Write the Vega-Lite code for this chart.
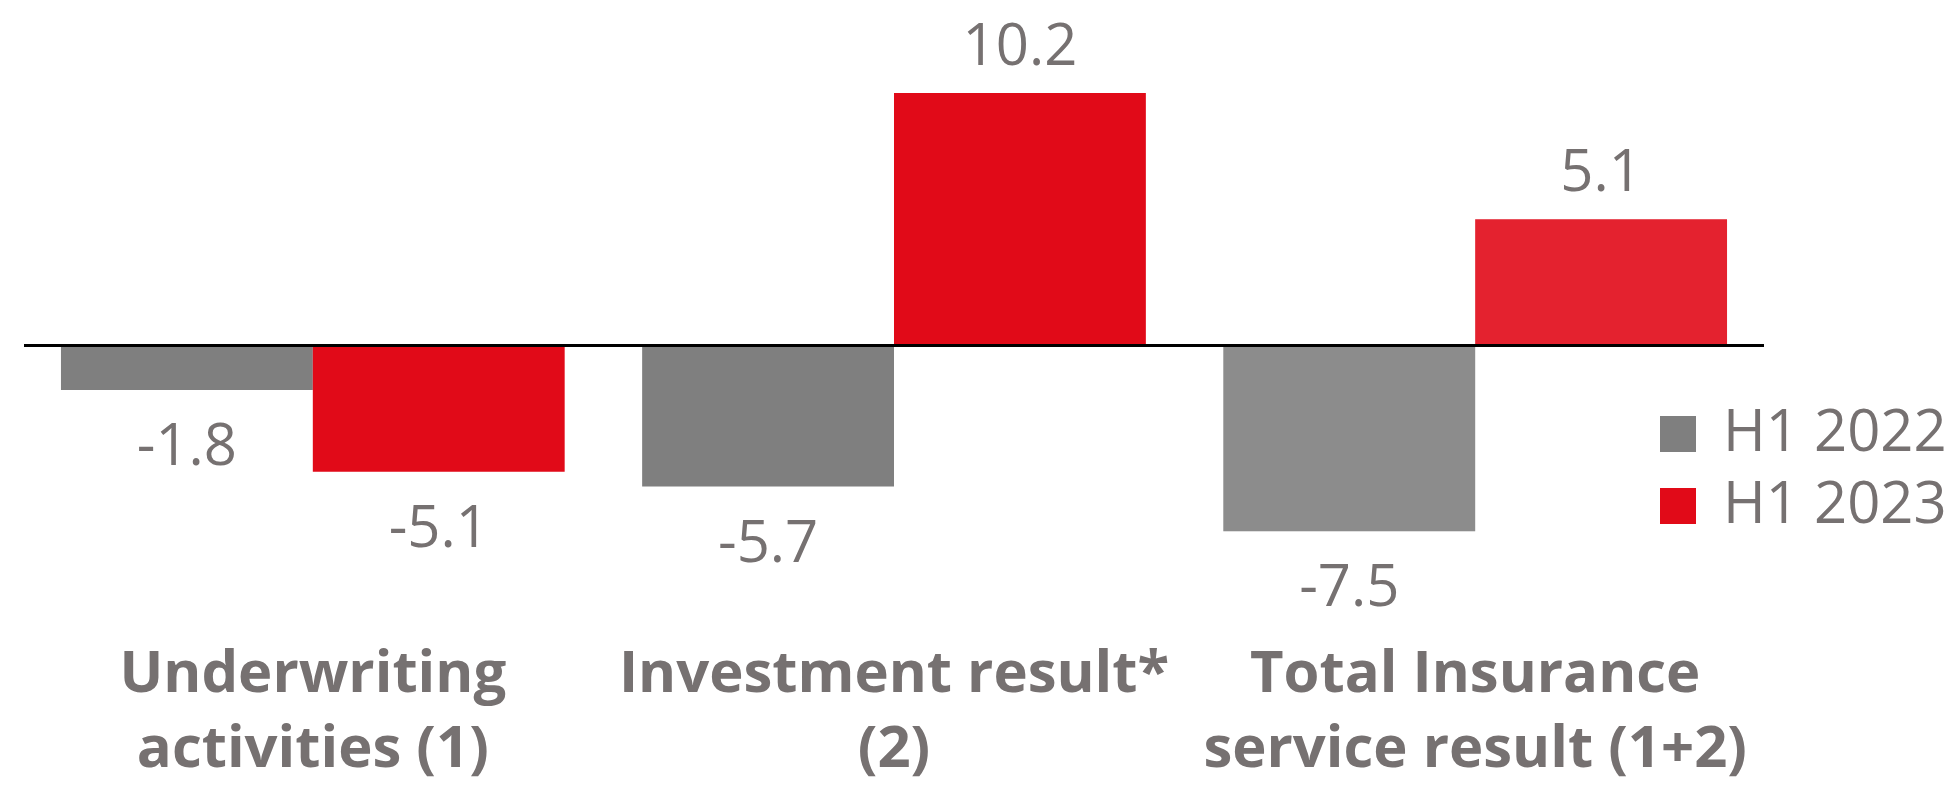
{
  "$schema": "https://vega.github.io/schema/vega-lite/v6.json",
  "width": 1740,
  "height": 593,
  "padding": {"left": 22, "top": 0, "right": 0, "bottom": 0},
  "background": "white",
  "config": {
    "view": {"stroke": null},
    "font": "Open Sans"
  },
  "data": {
    "values": [
      {"category": "Underwriting|activities (1)", "year": "H1 2022", "value": -1.8},
      {"category": "Underwriting|activities (1)", "year": "H1 2023", "value": -5.1},
      {"category": "Investment result*|(2)", "year": "H1 2022", "value": -5.7},
      {"category": "Investment result*|(2)", "year": "H1 2023", "value": 10.2},
      {"category": "Total Insurance|service result (1+2)", "year": "H1 2022", "value": -7.5},
      {"category": "Total Insurance|service result (1+2)", "year": "H1 2023", "value": 5.1}
    ]
  },
  "encoding": {
    "x": {
      "field": "category",
      "type": "nominal",
      "sort": null,
      "scale": {"paddingInner": 0.1333, "paddingOuter": 0.0636},
      "axis": {
        "title": null,
        "orient": "bottom",
        "domain": false,
        "ticks": false,
        "tickSize": 0,
        "labelAngle": 0,
        "labelExpr": "split(datum.label, '|')",
        "labelFont": "Open Sans",
        "labelFontWeight": "bold",
        "labelFontSize": 58,
        "labelColor": "#767171",
        "labelLineHeight": 75,
        "labelPadding": 52,
        "labelBaseline": "top",
        "labelLimit": 0
      }
    },
    "xOffset": {"field": "year", "type": "nominal", "scale": {"paddingInner": 0, "paddingOuter": 0}},
    "y": {
      "field": "value",
      "type": "quantitative",
      "scale": {"domain": [-10, 13.96], "nice": false, "zero": true},
      "axis": null
    }
  },
  "layer": [
    {
      "mark": {"type": "bar", "cornerRadius": 0},
      "encoding": {
        "color": {
          "field": "year",
          "type": "nominal",
          "scale": {"domain": ["H1 2022", "H1 2023"], "range": ["#7F7F7F", "#E10A18"]},
          "legend": {
            "title": null,
            "orient": "none",
            "legendX": 1625,
            "legendY": 405,
            "padding": 0,
            "symbolType": "square",
            "symbolSize": 1296,
            "symbolStrokeWidth": 0,
            "symbolOpacity": 1,
            "labelFont": "Open Sans",
            "labelFontSize": 58,
            "labelColor": "#767171",
            "labelOffset": 16,
            "rowPadding": 14,
            "labelLimit": 0
          }
        }
      }
    },
    {
      "transform": [{"filter": "indexof(datum.category, 'Total') == 0"}],
      "mark": {"type": "bar", "color": "white", "opacity": 0.1}
    },
    {
      "transform": [{"filter": "datum.value >= 0"}],
      "mark": {"type": "text", "baseline": "alphabetic", "align": "center", "dy": -28, "fontSize": 58, "color": "#767171", "font": "Open Sans"},
      "encoding": {"text": {"field": "value", "type": "nominal"}}
    },
    {
      "transform": [{"filter": "datum.value < 0"}],
      "mark": {"type": "text", "baseline": "alphabetic", "align": "center", "dy": 75, "fontSize": 58, "color": "#767171", "font": "Open Sans"},
      "encoding": {"text": {"field": "value", "type": "nominal"}}
    },
    {
      "mark": {"type": "rule", "color": "black", "strokeWidth": 2.5},
      "encoding": {"y": {"datum": 0}, "x": null, "xOffset": null}
    }
  ]
}
